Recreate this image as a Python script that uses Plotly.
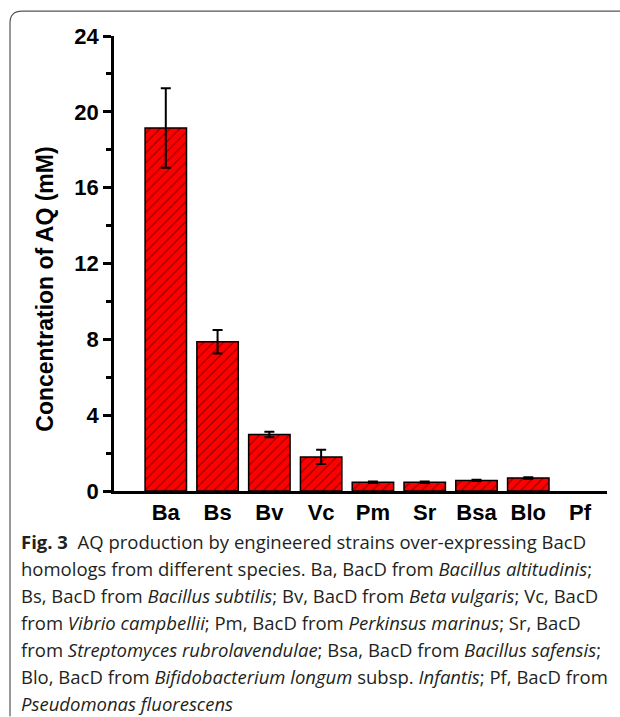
import plotly.graph_objects as go

categories = ["Ba", "Bs", "Bv", "Vc", "Pm", "Sr", "Bsa", "Blo", "Pf"]
values = [19.15, 7.87, 2.98, 1.8, 0.46, 0.46, 0.56, 0.68, 0.0]
errors = [2.1, 0.62, 0.14, 0.38, 0.04, 0.04, 0.03, 0.04, 0.0]
y_ticks = [0, 4, 8, 12, 16, 20, 24]
y_minor = [2, 6, 10, 14, 18, 22]
y_title = "Concentration of AQ (mM)"

caption_lines = [
    "<b>Fig. 3</b>  AQ production by engineered strains over-expressing BacD",
    "homologs from different species. Ba, BacD from <i>Bacillus altitudinis</i>;",
    "Bs, BacD from <i>Bacillus subtilis</i>; Bv, BacD from <i>Beta vulgaris</i>; Vc, BacD",
    "from <i>Vibrio campbellii</i>; Pm, BacD from <i>Perkinsus marinus</i>; Sr, BacD",
    "from <i>Streptomyces rubrolavendulae</i>; Bsa, BacD from <i>Bacillus safensis</i>;",
    "Blo, BacD from <i>Bifidobacterium longum</i> subsp. <i>Infantis</i>; Pf, BacD from",
    "<i>Pseudomonas fluorescens</i>",
]

W, H = 620, 717
L, R, T, B = 114, 13, 36, 225.5
pw, ph = W - L - R, H - T - B

def px(x):
    return (x - L) / pw

def py(y):
    return (H - B - y) / ph

xs = list(range(len(categories)))
outline_w = [0 if v == 0 else 1.5 for v in values]
err_idx = [i for i, v in enumerate(values) if v > 0]

fig = go.Figure()
fig.add_trace(go.Bar(
    x=xs, y=values,
    width=0.8,
    marker=dict(color="#ff0000", line=dict(color="black", width=outline_w),
                pattern=dict(shape="/", fgcolor="black", bgcolor="#ff0000",
                             size=7, solidity=0.15)),
))
fig.add_trace(go.Scatter(
    x=[xs[i] for i in err_idx], y=[values[i] for i in err_idx],
    mode="markers", marker=dict(size=0.1, opacity=0),
    error_y=dict(type="data", array=[errors[i] for i in err_idx],
                 color="black", thickness=2, width=5),
))

bold_font = "Liberation Sans, Arial"

fig.update_layout(
    width=W, height=H,
    margin=dict(l=L, r=R, t=T, b=B),
    paper_bgcolor="white", plot_bgcolor="white",
    showlegend=False,
    xaxis=dict(range=[-1.0, 8.52], tickmode="array",
               tickvals=xs,
               ticktext=[f"<b>{c}</b>" for c in categories],
               showline=True, linecolor="black", linewidth=3, ticks="",
               showgrid=False, zeroline=False,
               tickfont=dict(family=bold_font, size=22, color="black"),
               ticklabelstandoff=0),
    yaxis=dict(range=[0, 24], tickmode="array", tickvals=y_ticks,
               ticktext=[f"<b>{v}</b>" for v in y_ticks],
               showline=True, linecolor="black", linewidth=2.5,
               ticks="outside", ticklen=8, tickwidth=2.5, tickcolor="black",
               minor=dict(tickvals=y_minor, ticks="outside",
                          ticklen=5, tickwidth=2.5, tickcolor="black"),
               showgrid=False, zeroline=False,
               tickfont=dict(family=bold_font, size=22, color="black")),
)

fig.add_annotation(text=f"<b>{y_title}</b>", xref="paper", yref="paper",
                   x=px(45.5), y=py(289.5), xanchor="center", yanchor="middle",
                   textangle=-90, showarrow=False,
                   font=dict(family=bold_font, size=23, color="black"))

# frame
fig.add_shape(type="path", xref="paper", yref="paper",
              path=f"M {px(10)},{py(717)} L {px(10)},{py(23)} Q {px(10)},{py(11)} {px(22)},{py(11)} L {px(620)},{py(11)}",
              line=dict(color="#555555", width=1.2))

for i, line in enumerate(caption_lines):
    fig.add_annotation(text=line, xref="paper", yref="paper",
                       x=px(19), y=py(542 + 27 * i), xanchor="left", yanchor="middle",
                       showarrow=False, align="left",
                       font=dict(family="Open Sans", size=18.5, color="#231f20"))

fig.write_html("out.html", config={"displayModeBar": False},
               post_script="document.body.style.margin='0px';")
